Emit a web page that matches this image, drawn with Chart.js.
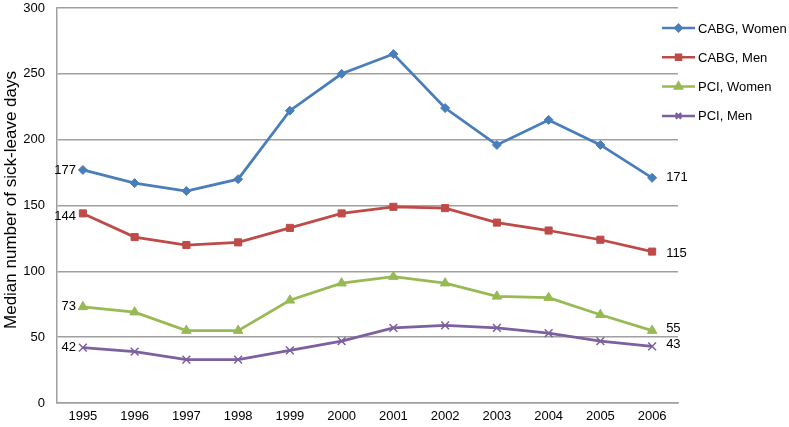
<!DOCTYPE html>
<html><head><meta charset="utf-8">
<script src="https://cdn.jsdelivr.net/npm/chart.js@4/dist/chart.umd.min.js"></script>
<style>html,body{margin:0;padding:0;background:#fff}#wrap{width:789px;height:427px}</style>
</head><body><div id="wrap"><canvas id="c" width="789" height="427"></canvas></div>
<script>
const years = ['1995','1996','1997','1998','1999','2000','2001','2002','2003','2004','2005','2006'];
const cabgWomen = [177,167,161,170,222,250,265,224,196,215,196,171];
const cabgMen = [144,126,120,122,133,144,149,148,137,131,124,115];
const pciWomen = [73,69,55,55,78,91,96,91,81,80,67,55];
const pciMen = [42,39,33,33,40,47,57,59,57,53,47,43];
const seriesNames = ['CABG, Women','CABG, Men','PCI, Women','PCI, Men'];
const yTicks = [0,50,100,150,200,250,300];
const yTitle = 'Median number of sick-leave days';

const FONT = '"Liberation Sans", Arial, sans-serif';
const colors = ['#4a7ebb','#be4b48','#98b954','#7d60a0'];
const styles = ['rectRot','rect','triangle','crossRot'];
const radii = [4.5,5,5.5,5.5];
const data = [cabgWomen,cabgMen,pciWomen,pciMen];

const labelPlugin = {
  id:'endLabels',
  afterDatasetsDraw(chart){
    const ctx = chart.ctx;
    ctx.save();
    ctx.font = '13px ' + FONT;
    ctx.fillStyle = '#000';
    ctx.textBaseline = 'middle';
    const offsL = [0,3,0,0];
    const offsR = [0,2,-2,-2];
    chart.data.datasets.forEach((ds,i)=>{
      const meta = chart.getDatasetMeta(i);
      const p0 = meta.data[0], pn = meta.data[meta.data.length-1];
      ctx.textAlign='right';
      ctx.fillText(String(ds.data[0]), p0.x-7, p0.y+offsL[i]);
      ctx.textAlign='left';
      ctx.fillText(String(ds.data[ds.data.length-1]), pn.x+14, pn.y+offsR[i]);
    });
    // y-axis title
    ctx.save();
    ctx.translate(15.5, 200);
    ctx.rotate(-Math.PI/2);
    ctx.font = '17px ' + FONT;
    ctx.textAlign='center';
    ctx.textBaseline='alphabetic';
    ctx.fillText(yTitle, 0, 0);
    ctx.restore();
    ctx.restore();
  }
};

const legendPlugin = {
  id:'customLegend',
  afterDraw(chart){
    const ctx = chart.ctx;
    ctx.save();
    ctx.font = '13px ' + FONT;
    ctx.textBaseline='middle';
    chart.data.datasets.forEach((ds,i)=>{
      const y = 28 + i*29.3;
      ctx.strokeStyle = ds.borderColor; ctx.lineWidth = 2.5;
      ctx.beginPath(); ctx.moveTo(662,y); ctx.lineTo(695,y); ctx.stroke();
      ctx.fillStyle = ds.borderColor;
      Chart.helpers.drawPoint(ctx,{pointStyle:ds.pointStyle,radius:ds.pointRadius*0.7,borderWidth:ds.pointStyle==='crossRot'?1.5:1,rotation:0},678.5,y);
      ctx.fillStyle='#000'; ctx.textAlign='left';
      ctx.fillText(ds.label, 698, y+1);
    });
    ctx.restore();
  }
};

new Chart(document.getElementById('c'),{
  type:'line',
  data:{
    labels:years,
    datasets:data.map((d,i)=>({
      label:seriesNames[i], data:d,
      borderColor:colors[i], backgroundColor:colors[i],
      pointBackgroundColor:colors[i], pointBorderColor:colors[i],
      borderWidth:2.75, pointStyle:styles[i], pointRadius:radii[i],
      pointBorderWidth: styles[i]==='crossRot'?1.5:1, tension:0
    }))
  },
  options:{
    responsive:false, animation:false,
    layout:{padding:{left:0,top:8,right:111,bottom:0}},
    plugins:{legend:{display:false},tooltip:{enabled:false}},
    scales:{
      x:{
        offset:true,
        grid:{display:false,drawTicks:false},
        border:{display:true,color:'#a0a0a0',width:1.5},
        ticks:{font:{family:FONT,size:13},color:'#000',padding:6,maxRotation:0},
        afterFit(s){s.height=24;s.paddingLeft=0;s.paddingRight=0;}
      },
      y:{
        min:0,max:300,
        afterBuildTicks(s){s.ticks = yTicks.map(v=>({value:v}));},
        grid:{color:'#a0a0a0',lineWidth:1.5,drawTicks:false},
        border:{display:true,color:'#a0a0a0',width:1.5},
        ticks:{font:{family:FONT,size:13},color:'#000',padding:12},
        afterFit(s){s.width=57;s.paddingTop=0;s.paddingBottom=0;}
      }
    }
  },
  plugins:[labelPlugin,legendPlugin]
});
</script></body></html>
